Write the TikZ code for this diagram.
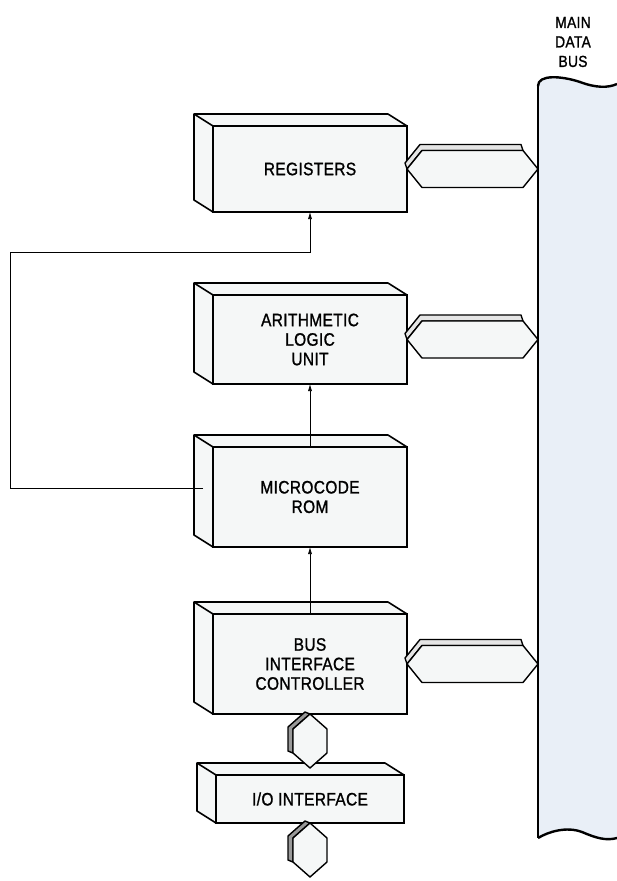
\documentclass[tikz,border=0pt]{standalone}
\usepackage{fontspec}
\setmainfont{Liberation Sans}[FakeStretch=0.86, FakeBold=1.2, LetterSpace=2]
\usetikzlibrary{arrows.meta,positioning,calc}
\definecolor{boxfill}{RGB}{245,247,247}
\definecolor{busfill}{RGB}{233,239,247}
\tikzset{
  mbox/.style  ={draw, fill=boxfill, line width=1.6pt, align=center, inner sep=0pt,
                 outer sep=0pt, minimum width=194pt, font=\fontsize{18}{19.5}\selectfont},
  mside/.style ={draw, fill=boxfill, line width=1.6pt, line join=round},
  mlink/.style ={draw, fill=boxfill, line width=1.4pt, line join=round},
  mbev/.style  ={mlink, fill=black!10},
  mvbev/.style ={mlink, fill=black!40},
  mbus/.style  ={line width=2.4pt},
  mar/.style   ={-{Latex[length=7pt,width=4pt]}, line width=0.7pt},
}
% back faces of a box, drawn from its front node
\newcommand{\boxsides}[1]{%
  \draw[mside] (#1.south west) -- ++(-19,-12) -- ($(#1.north west)+(-19,-12)$)
    -- ($(#1.north east)+(-19,-12)$) -- (#1.north east) -- (#1.north west) -- cycle;
  \draw[line width=1.6pt] (#1.north west) -- ++(-19,-12);}
% link from a box to the main bus
\newcommand{\buslink}[1]{%
  \draw[mbev] (#1.east) -- ++(-2,-6) -- ++(15,-18.5) -- ++(101,0) -- ++(2,6) -- ++(-101,0) -- cycle;
  \draw[mlink] (#1.east) -- ++(15,-18.5) -- ++(101,0) -- ++(15,18.5) -- ++(-15,18.5)
    -- ++(-101,0) -- cycle;}
% link going down from a box
\newcommand{\downlink}[1]{%
  \draw[mvbev] (#1.south) -- ++(-5,-2) -- ++(-17,15) -- ++(0,24) -- ++(5,2) -- ++(0,-24) -- cycle;
  \draw[mlink] (#1.south) -- ++(17,15) -- ++(0,24) -- ++(-17,15) -- ++(-17,-15)
    -- ++(0,-24) -- cycle;}
\begin{document}
\begin{tikzpicture}[x=1pt, y=-1pt]
\useasboundingbox (0,0) rectangle (617,881);

% main data bus
\fill[busfill] (538,86) .. controls (538,74) and (562,76) .. (580,82)
  .. controls (596,88) and (608,88) .. (617,84) -- (617,838)
  .. controls (606,841) and (596,838) .. (582,832)
  .. controls (566,826) and (548,832) .. (538,838) -- cycle;
\draw[mbus] (538,86) .. controls (538,74) and (562,76) .. (580,82)
  .. controls (596,88) and (608,88) .. (617,84);
\draw[mbus] (538,838) .. controls (548,832) and (566,826) .. (582,832)
  .. controls (596,838) and (606,841) .. (617,838);
\draw[line width=1.6pt] (538,86) -- (538,838);
\node[align=center, font=\fontsize{16}{19.5}\selectfont] (buslbl) at (573,42) {MAIN\\DATA\\BUS};

\node[mbox, minimum height=86pt] (reg) at (310,169) {REGISTERS};
\node[mbox, minimum height=89pt, below=83pt of reg] (alu) {ARITHMETIC\\LOGIC\\UNIT};
\node[mbox, minimum height=100pt, below=63pt of alu] (rom) {MICROCODE\\ROM};
\node[mbox, minimum height=100pt, below=67pt of rom] (bic) {BUS\\INTERFACE\\CONTROLLER};
\node[mbox, minimum width=188pt, minimum height=48pt, below=61pt of bic] (io) {I/O INTERFACE};

\boxsides{reg}
\boxsides{alu}
\boxsides{rom}
\boxsides{bic}
\boxsides{io}

\buslink{reg}
\buslink{alu}
\buslink{bic}
\downlink{bic}
\downlink{io}

\draw[mar] (rom.north) -- (alu.south);
\draw[mar] (bic.north) -- (rom.south);

\coordinate (fbin) at ($(rom.west)+(-10,-9)$);
\coordinate (fbturn) at (10,252);
\draw[mar] (fbin) -| (fbturn) -| (reg.south);

\end{tikzpicture}
\end{document}
